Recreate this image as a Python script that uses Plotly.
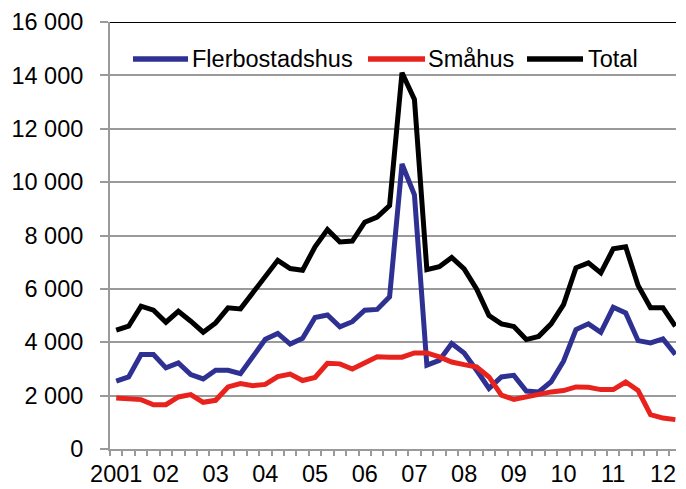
import plotly.graph_objects as go

quarters = list(range(46))
year_labels = ["2001", "02", "03", "04", "05", "06", "07", "08", "09", "10", "11", "12"]
year_positions = [0, 4, 8, 12, 16, 20, 24, 28, 32, 36, 40, 44]

flerbostadshus = [2540, 2700, 3540, 3540, 3040, 3225, 2790, 2625, 2950, 2950, 2825, 3475,
                  4110, 4330, 3930, 4150, 4930, 5020, 4580, 4770, 5200, 5230, 5700, 10680,
                  9520, 3140, 3320, 3950, 3600, 2950, 2270, 2700, 2760, 2170, 2140, 2520,
                  3290, 4475, 4690, 4375, 5310, 5100, 4060, 3975, 4125, 3540]
smahus = [1910, 1875, 1850, 1660, 1660, 1950, 2040, 1750, 1825, 2325, 2450, 2375,
          2420, 2710, 2810, 2565, 2680, 3210, 3190, 3000, 3250, 3460, 3440, 3440,
          3600, 3600, 3450, 3260, 3160, 3075, 2700, 2020, 1855, 1955, 2060, 2140,
          2190, 2325, 2310, 2225, 2225, 2510, 2190, 1290, 1160, 1100]
total = [4450, 4600, 5350, 5200, 4750, 5160, 4790, 4375, 4725, 5290, 5250, 5850,
         6500, 7070, 6760, 6700, 7580, 8220, 7760, 7790, 8500, 8690, 9125, 14100,
         13100, 6720, 6830, 7180, 6750, 6000, 5000, 4690, 4590, 4100, 4220, 4690,
         5410, 6790, 6975, 6600, 7500, 7575, 6125, 5290, 5290, 4600]

series_names = ["Flerbostadshus", "Småhus", "Total"]
series_colors = ["#2E3192", "#E8231D", "#000000"]
series_values = [flerbostadshus, smahus, total]

FONT = "Liberation Sans, Arial, Helvetica, sans-serif"
FS = 23.5
GRID = "#9a9a9a"

fig = go.Figure()
for name, color, vals in zip(series_names, series_colors, series_values):
    fig.add_trace(go.Scatter(x=quarters, y=vals, name=name, mode="lines",
                             line=dict(color=color, width=5),
                             showlegend=False))

# page body has an 8px margin, so the figure is offset by (8, 8)
OFF = 8
W, H = 686 - OFF, 489 - OFF
L, R, T, B = 110 - OFF, 10, 22 - OFF, 40
pw, ph = W - L - R, H - T - B

def px_to_paper_x(px):
    return (px - OFF - L) / pw

def px_to_paper_y(py):
    return (H - B - (py - OFF)) / ph

# top border
fig.add_shape(type="line", xref="paper", yref="y", x0=0, x1=1, y0=16000, y1=16000,
              line=dict(color="black", width=2))

# custom legend
leg_y = px_to_paper_y(59)
legend_items = [(133, 188, 190), (368, 425, 426), (527, 583, 586)]
for (x0, x1, tx), name, color in zip(legend_items, series_names, series_colors):
    fig.add_shape(type="line", xref="paper", yref="paper",
                  x0=px_to_paper_x(x0), x1=px_to_paper_x(x1), y0=leg_y, y1=leg_y,
                  line=dict(color=color, width=5.5))
    fig.add_annotation(xref="paper", yref="paper", x=px_to_paper_x(tx), y=leg_y,
                       text=name, showarrow=False, xanchor="left", yanchor="middle",
                       font=dict(family=FONT, size=FS, color="black"))

fig.update_layout(
    width=W, height=H,
    margin=dict(l=L, r=R, t=T, b=B, pad=0, autoexpand=False),
    paper_bgcolor="white", plot_bgcolor="white",
    separators=", ",
    font=dict(family=FONT, size=FS, color="black"),
    showlegend=False,
)
fig.update_xaxes(
    automargin=False,
    range=[-0.5, 45.05],
    tickmode="array", tickvals=year_positions, ticktext=year_labels,
    ticks="", showgrid=False, zeroline=False,
    showline=True, linecolor=GRID, linewidth=2,
    ticklabelstandoff=3,
    minor=dict(tickmode="array", tickvals=[k - 0.5 for k in range(46)],
               ticks="outside", ticklen=5, tickcolor=GRID, tickwidth=1.5, showgrid=False),
)
fig.update_yaxes(
    automargin=False,
    range=[0, 16000], tickmode="array", tickvals=list(range(0, 16001, 2000)),
    tickformat=",d",
    showgrid=True, gridcolor=GRID, gridwidth=2,
    zeroline=False, showline=True, linecolor=GRID, linewidth=2,
    ticks="outside", ticklen=8, tickcolor=GRID, tickwidth=2,
    ticklabelstandoff=12,
)

fig.write_html("out.html", config={"responsive": False})
